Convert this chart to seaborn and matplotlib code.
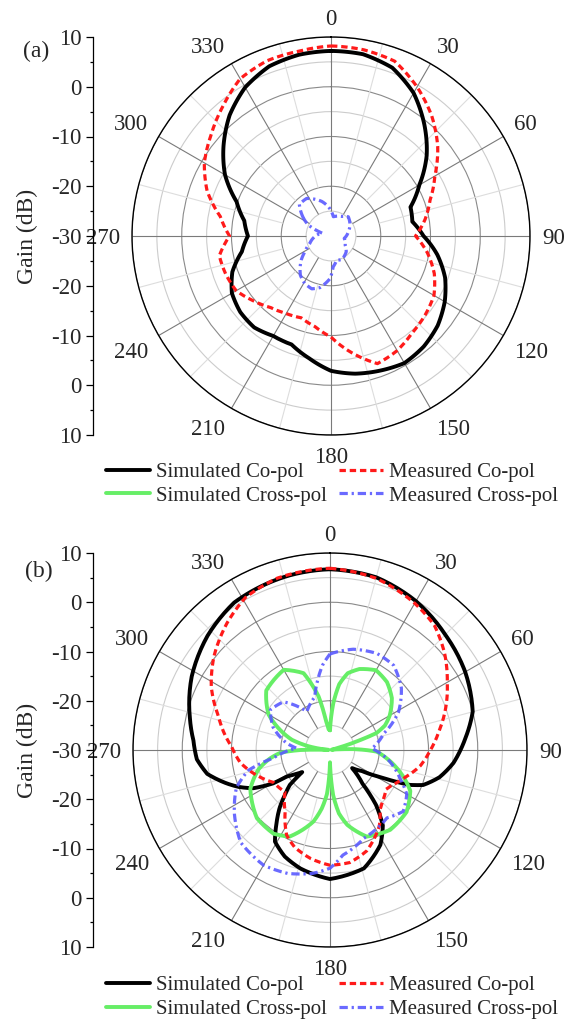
import numpy as np
import matplotlib
matplotlib.use("Agg")
import matplotlib.pyplot as plt
from matplotlib.lines import Line2D
from matplotlib.ticker import FixedLocator, MultipleLocator
import seaborn as sns

# ---- panel (a) ----
a_sim_co_deg = list(range(0, 361, 10))
a_sim_co_db = [7.2, 7.1, 6.0, 3.2, -0.8, -4.9, -9.5, -13.0, -13.4, -11.4, -8.3, -5.6,
               -3.6, -2.0, -1.0, -0.5, -1.2, -1.9, -2.9, -5.0, -6.8, -6.8, -6.0, -6.2,
               -7.0, -8.9, -11.8, -13.3, -12.3, -9.8, -5.4, -1.8, 1.7, 4.5, 6.3, 7.0, 7.2]

a_meas_co_deg = list(range(0, 361, 10))
a_meas_co_db = [8.2, 8.0, 7.4, 4.6, 1.5, -2.0, -5.9, -8.8, -10.8, -13.0, -10.3, -7.9,
                -6.1, -5.3, -4.6, -3.4, -2.7, -6.2, -9.7, -11.5, -12.5, -12.0, -11.2, -9.7,
                -8.0, -7.5, -7.2, -9.6, -7.4, -3.5, -0.6, 1.5, 3.9, 6.5, 7.5, 7.7, 8.2]

a_meas_x_deg = [303, 315, 327, 345, 355, 7, 29, 42, 60, 76, 100, 123, 136, 155, 167, 176,
                181, 192, 200, 209, 218, 231, 239, 251, 288, 296, 303]
a_meas_x_db = [-23.4, -21.0, -21.0, -22.8, -24.1, -26.1, -25.5, -24.8, -25.6, -26.4, -27.3,
               -26.6, -25.6, -24.8, -25.0, -23.8, -21.5, -19.4, -18.7, -19.1, -20.0, -22.3,
               -23.9, -25.5, -28.2, -24.9, -23.4]

# ---- panel (b) ----
b_sim_co_deg = [0, 15, 30, 45, 60, 75, 85, 90, 96, 104, 110.6, 113.6, 115.5, 117.4, 120.2,
                123.3, 129.3, 136, 140, 145, 152, 164, 180, 194, 203, 211, 216, 221, 225,
                229, 231.5, 235, 238.4, 239.6, 243.5, 248, 252, 259, 266, 274, 283, 298,
                313, 327, 347, 360]
b_sim_co_db = [6.7, 6.3, 4.9, 3.1, 1.7, 0.0, -2.4, -3.5, -4.8, -7.1, -9.8, -12.3, -14.9,
               -17.4, -19.9, -22.2, -24.2, -20.5, -15.5, -11.3, -8.2, -5.0, -3.8, -5.2,
               -6.5, -8.3, -11.5, -14.4, -17.0, -19.2, -22.8, -21.5, -19.7, -16.6, -12.6,
               -10.0, -8.0, -4.6, -2.9, -2.2, -0.8, 1.8, 4.0, 5.7, 6.4, 6.7]

b_meas_co_deg = [0, 15, 30, 40, 50, 60, 70, 80, 90, 100, 110, 120, 125, 135, 140, 147, 155,
                 160, 170, 180, 190, 200, 207, 216, 227, 240, 250, 262, 272, 280, 287, 298,
                 309, 321, 331, 343, 360]
b_meas_co_db = [6.9, 6.1, 4.4, 3.0, 0.4, -2.5, -5.0, -7.5, -9.6, -11.4, -13.8, -15.6, -16.1,
                -15.0, -14.2, -11.6, -9.5, -8.2, -6.8, -6.6, -7.6, -9.0, -10.6, -14.5, -17.5,
                -16.8, -14.5, -11.6, -10.0, -8.0, -6.3, -2.7, 0.3, 3.2, 5.4, 6.5, 6.9]

b_sim_x_deg = [0, 4, 8, 13, 20, 30, 40, 50, 60, 66, 70, 72, 75, 82, 86, 88, 92, 98, 105, 111,
               117, 129, 143, 157, 167, 172, 176, 178.5, 180, 181.5, 184, 188, 193, 205, 214,
               227, 244, 255, 262, 267, 270, 272, 275, 277, 280, 285, 290, 300, 313, 330,
               341, 348, 352, 356, 360]
b_sim_x_db = [-26.0, -20.5, -16.5, -14.0, -12.5, -11.3, -12.0, -13.6, -16.0, -17.8, -20.0,
              -24.0, -28.5, -29.7, -28.0, -25.0, -20.5, -18.5, -16.0, -13.8, -11.7, -10.0,
              -9.7, -10.9, -14.4, -17.0, -20.8, -25.0, -27.5, -25.0, -21.0, -18.0, -15.1,
              -10.6, -9.5, -9.7, -12.0, -15.0, -17.7, -20.0, -24.0, -28.5, -29.7, -28.0,
              -25.5, -22.0, -19.9, -15.6, -12.3, -11.2, -13.5, -18.9, -24.0, -25.8, -26.0]

b_meas_x_deg = [0, 13, 26, 37, 49, 61, 73, 88, 101, 112, 120, 130, 140, 159, 173, 180, 188,
                199, 210, 224, 236, 248, 256, 262, 273, 279, 292, 304, 316, 329, 344, 350,
                355, 360]
b_meas_x_db = [-10.5, -9.0, -8.2, -8.5, -10.8, -14.1, -18.6, -21.5, -17.6, -14.7, -12.0,
               -10.6, -12.0, -10.8, -8.5, -6.0, -4.7, -3.5, -3.0, -3.9, -6.6, -9.5, -12.9,
               -18.4, -23.2, -21.1, -17.5, -15.4, -16.4, -20.9, -18.8, -15.6, -12.7, -10.5]

angle_ticks = list(range(0, 360, 30))
angle_labels = ['0', '30', '60', '90', '120', '150', '180', '210', '240', '270', '300', '330']
gain_labels = ['10', '0', '-10', '-20', '-30', '-20', '-10', '0', '10']
legend_labels = ['Simulated Co-pol', 'Simulated Cross-pol', 'Measured Co-pol', 'Measured Cross-pol']

BLACK = 'black'
RED = '#ff1a1a'
GREEN = '#66ee66'
BLUE = '#5a5aff'
RED_LS = (0, (2.0, 1.2))
BLUE_LS = (0, (2.6, 1.2, 0.7, 1.2))

sns.set_theme(style='ticks')
plt.rcParams['font.family'] = ['Liberation Serif', 'DejaVu Serif']
plt.rcParams['axes.unicode_minus'] = False

W, H = 574, 1028
fig = plt.figure(figsize=(W / 100, H / 100), dpi=100)


def curve(ax, deg, db, color, ls='-', lw=2.8, alpha=1.0):
    theta = np.unwrap(np.deg2rad(deg))
    sns.lineplot(x=theta, y=np.asarray(db), ax=ax, sort=False, estimator=None,
                 color=color, linestyle=ls, linewidth=lw, alpha=alpha)
    # let the polar transform draw each segment along theta/r instead of a chord
    ax.lines[-1].get_path()._interpolation_steps = 12


def panel(cx, cy, rad, tag, tag_xy, curves):
    rect = [(cx - rad) / W, 1 - (cy + rad) / H, 2 * rad / W, 2 * rad / H]
    ax = fig.add_axes(rect, projection='polar')
    ax.set_theta_zero_location('N')
    ax.set_theta_direction(-1)
    ax.set_ylim(-30, 10)
    ax.set_yticks([-20, -10, 0, 10])
    ax.set_yticks([-25, -15, -5, 5], minor=True)
    ax.set_yticklabels([])
    ax.yaxis.grid(True, which='major', color='#8a8a8a', lw=0.8)
    ax.yaxis.grid(True, which='minor', color='#cccccc', lw=0.8)
    ax.xaxis.grid(False)
    ax.set_xticks(np.deg2rad(angle_ticks))
    ax.set_xticklabels([])
    ax.set_xticks(np.deg2rad(np.arange(15, 360, 30)), minor=True)
    ax.tick_params(axis='x', which='both', direction='in', length=6, width=0.9, color='black')
    ax.tick_params(axis='y', which='both', length=0)
    ax.vlines(np.deg2rad(np.arange(15, 360, 30)), -20, 10, colors='#dddddd', lw=0.8, zorder=1)
    ax.vlines(np.deg2rad(np.arange(0, 360, 30)), -25, 10, colors='#7a7a7a', lw=0.8, zorder=1)
    ax.spines['polar'].set_color('black')
    ax.spines['polar'].set_linewidth(1.0)
    for c in curves:
        curve(ax, *c)
    ax.set_xlabel('')
    ax.set_ylabel('')

    # angle labels: nearest corner of each label sits ~12 px outside the ring
    px_per_db = rad / 40.0
    for a, lab in zip(angle_ticks, angle_labels):
        s, c = np.sin(np.deg2rad(a)), np.cos(np.deg2rad(a))
        ha = 'left' if s > 0.1 else ('right' if s < -0.1 else 'center')
        va = 'baseline' if c > 0.1 else ('top' if c < -0.1 else 'center_baseline')
        ax.text(np.deg2rad(a), 10 + 12 / px_per_db, lab, ha=ha, va=va,
                fontsize=16.5, clip_on=False)

    # vertical gain scale on the left
    axl = fig.add_axes([92.5 / W, rect[1], 0.0001, rect[3]])
    axl.set_ylim(-40, 40)
    axl.set_xticks([])
    for s in ['top', 'right', 'bottom']:
        axl.spines[s].set_visible(False)
    axl.spines['left'].set_color('black')
    axl.spines['left'].set_linewidth(0.9)
    axl.yaxis.set_major_locator(FixedLocator(np.arange(-40, 41, 10)))
    axl.set_yticklabels(gain_labels)
    axl.yaxis.set_minor_locator(MultipleLocator(5))
    axl.tick_params(axis='y', which='major', direction='out', length=5, width=0.9,
                    color='black', labelsize=16.5, pad=3)
    axl.tick_params(axis='y', which='minor', direction='out', length=2.5, width=0.9, color='black')
    axl.set_ylabel('Gain (dB)', fontsize=17, labelpad=9)
    axl.patch.set_visible(False)

    fig.text(tag_xy[0] / W, 1 - tag_xy[1] / H, tag, ha='center', va='center', fontsize=17)


panel(331, 236, 199, '(a)', (36, 51), [
    (a_sim_co_deg, a_sim_co_db, BLACK, '-', 2.8),
    (a_meas_co_deg, a_meas_co_db, RED, RED_LS, 2.3),
    (a_meas_x_deg, a_meas_x_db, BLUE, BLUE_LS, 2.3, 0.9),
])

panel(330, 750, 197, '(b)', (39, 571), [
    (b_sim_co_deg, b_sim_co_db, BLACK, '-', 2.8),
    (b_sim_x_deg, b_sim_x_db, GREEN, '-', 2.8),
    (b_meas_co_deg, b_meas_co_db, RED, RED_LS, 2.3),
    (b_meas_x_deg, b_meas_x_db, BLUE, BLUE_LS, 2.3, 0.9),
])

handles = [Line2D([], [], color=BLACK, lw=2.8),
           Line2D([], [], color=GREEN, lw=2.8),
           Line2D([], [], color=RED, lw=2.3, ls=RED_LS),
           Line2D([], [], color=BLUE, lw=2.3, ls=BLUE_LS, alpha=0.9)]

for ly in (484, 997.5):
    fig.legend(handles, legend_labels, loc='center', bbox_to_anchor=(332 / W, 1 - ly / H),
               ncol=2, frameon=False, fontsize=15, handlelength=2.1, handletextpad=0.3,
               columnspacing=0.6, labelspacing=0.2, borderpad=0, borderaxespad=0)

fig.savefig('out.png', dpi=100)
